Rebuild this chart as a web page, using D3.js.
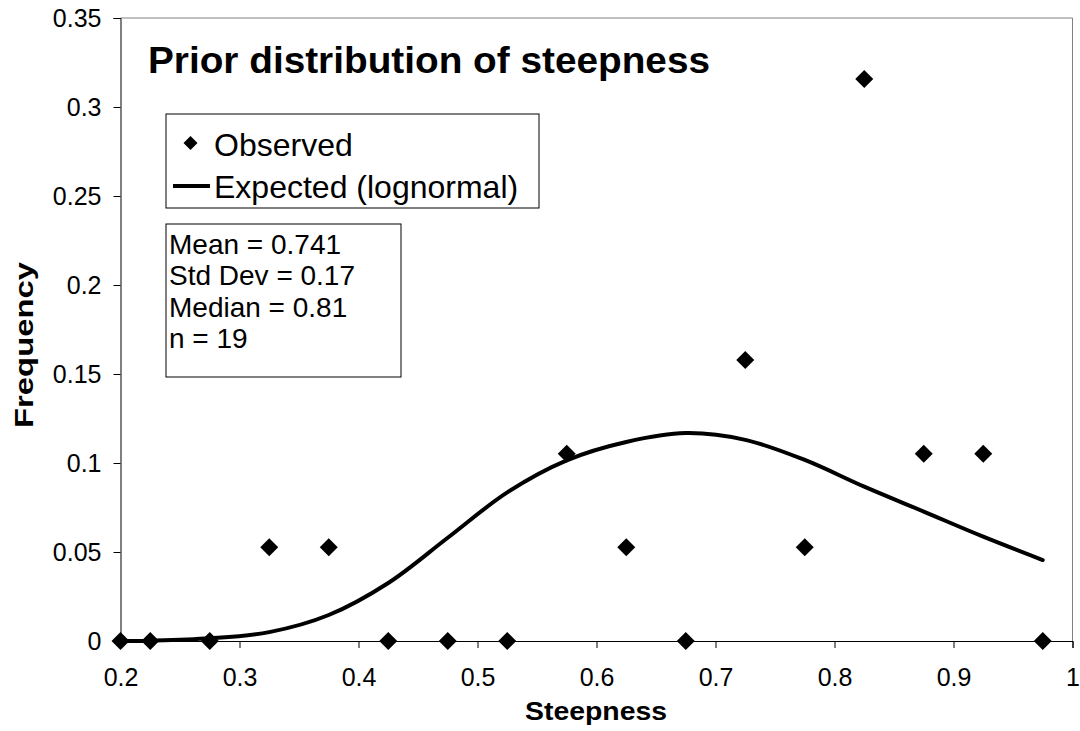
<!DOCTYPE html>
<html>
<head>
<meta charset="utf-8">
<script src="https://cdn.jsdelivr.net/npm/d3@7"></script>
<style>
  html, body { margin: 0; padding: 0; background: #fff; }
  svg { display: block; font-family: "Liberation Sans", Arial, sans-serif; }
</style>
</head>
<body>
<svg id="chart" width="1080" height="731"></svg>
<script>
// Bin midpoints of steepness
const steepness = [0.2, 0.225, 0.275, 0.325, 0.375, 0.425, 0.475, 0.525, 0.575,
                   0.625, 0.675, 0.725, 0.775, 0.825, 0.875, 0.925, 0.975];
// Observed relative frequency per bin (n = 19)
const observed = [0, 0, 0, 1/19, 1/19, 0, 0, 0, 2/19,
                  1/19, 0, 3/19, 1/19, 6/19, 2/19, 2/19, 0];
// Expected frequency from the fitted lognormal
const expected = [0, 0.0002, 0.0015, 0.005, 0.0146, 0.0326, 0.058, 0.0835, 0.1015,
                  0.1118, 0.1168, 0.113, 0.1017, 0.0867, 0.0727, 0.0586, 0.0455];

const xTicks = [0.2, 0.3, 0.4, 0.5, 0.6, 0.7, 0.8, 0.9, 1];
const yTicks = [0, 0.05, 0.1, 0.15, 0.2, 0.25, 0.3, 0.35];
const statsLines = ["Mean = 0.741", "Std Dev = 0.17", "Median = 0.81", "n = 19"];
const legendItems = ["Observed", "Expected (lognormal)"];

const svg = d3.select("#chart");
const plot = { left: 120.5, right: 1072.5, top: 18, bottom: 641 };

const x = d3.scaleLinear().domain([0.2, 1]).range([plot.left, plot.right]);
const y = d3.scaleLinear().domain([0, 0.35]).range([plot.bottom, plot.top]);

// Plot area frame (top and right edges)
svg.append("path")
  .attr("d", `M${plot.left},${plot.top}H${plot.right}V${plot.bottom}`)
  .attr("fill", "none").attr("stroke", "#808080").attr("stroke-width", 1);

// Axes
const xAxis = d3.axisBottom(x).tickValues(xTicks).tickSize(7).tickPadding(20)
  .tickFormat(d => d3.format("")(d));
const gx = svg.append("g").attr("transform", `translate(0,${plot.bottom})`).call(xAxis);
gx.select(".domain").attr("stroke", "#000");
gx.selectAll(".tick line").attr("stroke", "#000");
gx.selectAll(".tick text").attr("font-size", 25).attr("fill", "#000")
  .attr("font-family", "Liberation Sans, Arial, sans-serif").attr("dy", "0.71em");

const yAxis = d3.axisLeft(y).tickValues(yTicks).tickSize(7).tickPadding(12)
  .tickFormat(d => d3.format("")(d));
const gy = svg.append("g").attr("transform", `translate(${plot.left},0)`).call(yAxis);
gy.select(".domain").attr("stroke", "#000");
gy.selectAll(".tick line").attr("stroke", "#000");
gy.selectAll(".tick text").attr("font-size", 25).attr("fill", "#000")
  .attr("font-family", "Liberation Sans, Arial, sans-serif");

// Expected lognormal curve
const line = d3.line()
  .x((d, i) => x(steepness[i]))
  .y(d => y(d))
  .curve(d3.curveCatmullRom.alpha(0.5));
svg.append("path")
  .datum(expected)
  .attr("d", line)
  .attr("fill", "none").attr("stroke", "#000").attr("stroke-width", 4)
  .attr("stroke-linejoin", "round").attr("stroke-linecap", "round");

// Observed points as diamonds
const diamond = (s) => `M0,${-s}L${s},0L0,${s}L${-s},0Z`;
svg.append("g").selectAll("path")
  .data(observed)
  .join("path")
  .attr("transform", (d, i) => `translate(${x(steepness[i])},${y(d)})`)
  .attr("d", diamond(9))
  .attr("fill", "#000");

// Title
svg.append("text")
  .attr("x", 148).attr("y", 73)
  .attr("font-size", 36).attr("font-weight", "bold")
  .attr("textLength", 562).attr("lengthAdjust", "spacingAndGlyphs")
  .text("Prior distribution of steepness");

// Axis titles
svg.append("text")
  .attr("x", 596).attr("y", 720).attr("text-anchor", "middle")
  .attr("font-size", 25).attr("font-weight", "bold")
  .attr("textLength", 142).attr("lengthAdjust", "spacingAndGlyphs")
  .text("Steepness");
svg.append("text")
  .attr("transform", "translate(33,345) rotate(-90)").attr("text-anchor", "middle")
  .attr("font-size", 25).attr("font-weight", "bold")
  .attr("textLength", 166).attr("lengthAdjust", "spacingAndGlyphs")
  .text("Frequency");

// Legend
const legend = svg.append("g");
legend.append("rect")
  .attr("x", 166).attr("y", 114).attr("width", 373).attr("height", 94)
  .attr("fill", "#fff").attr("stroke", "#000").attr("stroke-width", 1);
legend.append("path")
  .attr("transform", "translate(190.5,143)")
  .attr("d", diamond(7)).attr("fill", "#000");
legend.append("line")
  .attr("x1", 173).attr("x2", 210).attr("y1", 186).attr("y2", 186)
  .attr("stroke", "#000").attr("stroke-width", 4);
legend.selectAll("text.item")
  .data(legendItems)
  .join("text")
  .attr("class", "item")
  .attr("x", 214).attr("y", (d, i) => 156 + i * 42)
  .attr("font-size", 32)
  .text(d => d);

// Summary statistics box
const stats = svg.append("g");
stats.append("rect")
  .attr("x", 166).attr("y", 224).attr("width", 235).attr("height", 153)
  .attr("fill", "#fff").attr("stroke", "#000").attr("stroke-width", 1);
stats.selectAll("text")
  .data(statsLines)
  .join("text")
  .attr("x", 169).attr("y", (d, i) => 254 + i * 31.3)
  .attr("font-size", 28)
  .text(d => d);
</script>
</body>
</html>
